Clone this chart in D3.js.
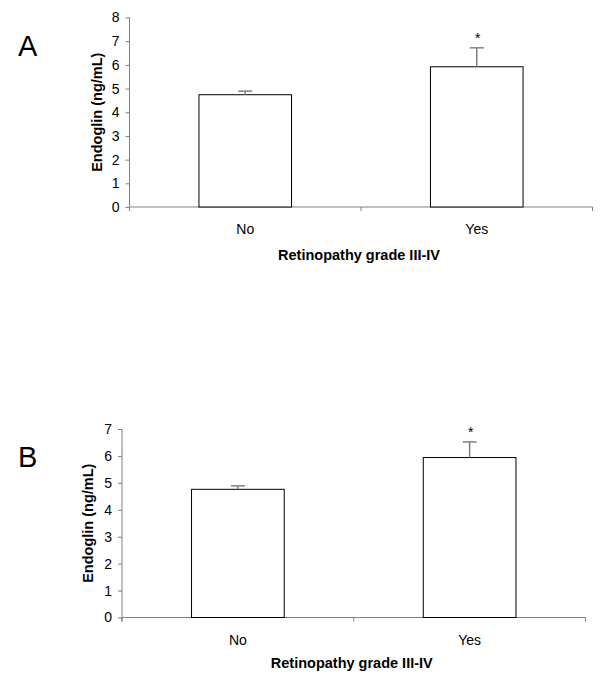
<!DOCTYPE html>
<html><head><meta charset="utf-8">
<script src="https://cdn.jsdelivr.net/npm/d3@7"></script>
<style>body{margin:0;background:#fff}svg{display:block}text{font-family:"Liberation Sans",Arial,sans-serif}</style>
</head><body>
<svg id="c" width="600" height="680"></svg>
<script>
const categories = ["No", "Yes"];
const valuesA = [4.74, 5.92];
const errorsA = [0.15, 0.80];
const ticksA = [0, 1, 2, 3, 4, 5, 6, 7, 8];
const valuesB = [4.76, 5.94];
const errorsB = [0.13, 0.58];
const ticksB = [0, 1, 2, 3, 4, 5, 6, 7];
const significance = ["", "*"];
const xTitle = "Retinopathy grade III-IV";
const yTitle = "Endoglin (ng/mL)";

const svg = d3.select("#c");
const grey = "#808080";

function panel(cfg) {
  const {label, values, errors, ticks, x0, x1, yTop, yBot, yMax, yTitleX, labelPos, xTitleY} = cfg;
  const g = svg.append("g");
  const x = d3.scaleBand().domain(categories).range([x0, x1]).paddingInner(0).paddingOuter(0);
  const y = d3.scaleLinear().domain([0, yMax]).range([yBot, yTop]);
  const bw = x.bandwidth() * 0.4;

  // y axis
  const ya = g.append("g").attr("transform", `translate(${x0},0)`)
    .call(d3.axisLeft(y).tickValues(ticks).tickSize(4).tickPadding(6).tickFormat(d3.format("d")));
  ya.select(".domain").attr("stroke", grey).attr("d", `M-0,${yTop}V${yBot + 4}`);
  ya.selectAll(".tick line").attr("stroke", grey);
  ya.selectAll(".tick text").attr("font-size", 14).attr("fill", "#000");

  // x axis
  const xa = g.append("g").attr("transform", `translate(0,${yBot})`);
  xa.append("line").attr("x1", x0).attr("x2", x1).attr("stroke", grey);
  const bounds = [x0, ...categories.slice(1).map(c => x(c)), x1];
  xa.selectAll("line.tk").data(bounds).join("line").attr("class", "tk")
    .attr("x1", d => d).attr("x2", d => d).attr("y1", 0).attr("y2", 4).attr("stroke", grey);
  xa.selectAll("text").data(categories).join("text")
    .attr("x", d => x(d) + x.bandwidth() / 2).attr("y", 27)
    .attr("text-anchor", "middle").attr("font-size", 14).text(d => d);

  // bars
  g.selectAll("rect.bar").data(categories).join("rect").attr("class", "bar")
    .attr("x", d => x(d) + x.bandwidth() / 2 - bw / 2)
    .attr("width", bw)
    .attr("y", (d, i) => y(values[i]))
    .attr("height", (d, i) => y(0) - y(values[i]))
    .attr("fill", "#fff").attr("stroke", "#000").attr("stroke-width", 1);

  // error bars
  const eb = g.selectAll("g.eb").data(categories).join("g").attr("class", "eb");
  eb.append("line")
    .attr("x1", d => x(d) + x.bandwidth() / 2).attr("x2", d => x(d) + x.bandwidth() / 2)
    .attr("y1", (d, i) => y(values[i])).attr("y2", (d, i) => y(values[i] + errors[i]))
    .attr("stroke", grey).attr("stroke-width", 1.5);
  eb.append("line")
    .attr("x1", d => x(d) + x.bandwidth() / 2 - 7).attr("x2", d => x(d) + x.bandwidth() / 2 + 7)
    .attr("y1", (d, i) => y(values[i] + errors[i])).attr("y2", (d, i) => y(values[i] + errors[i]))
    .attr("stroke", grey).attr("stroke-width", 1.5);
  eb.append("text")
    .attr("x", d => x(d) + x.bandwidth() / 2 + 1)
    .attr("y", (d, i) => y(values[i] + errors[i]) - 5)
    .attr("text-anchor", "middle").attr("font-size", 14)
    .text((d, i) => significance[i]);

  // titles
  g.append("text").attr("x", (x0 + x1) / 2 - 2).attr("y", xTitleY)
    .attr("text-anchor", "middle").attr("font-size", 14.5).attr("font-weight", "bold").text(xTitle);
  g.append("text").attr("transform", `translate(${yTitleX},${(yTop + yBot) / 2}) rotate(-90)`)
    .attr("text-anchor", "middle").attr("font-size", 14.5).attr("font-weight", "bold").text(yTitle);
  g.append("text").attr("x", labelPos[0]).attr("y", labelPos[1])
    .attr("font-size", 29).text(label);
}

panel({label: "A", values: valuesA, errors: errorsA, ticks: ticksA,
  x0: 129.5, x1: 592.5, yTop: 17.5, yBot: 207, yMax: 8, yTitleX: 102, labelPos: [18, 56], xTitleY: 260});
panel({label: "B", values: valuesB, errors: errorsB, ticks: ticksB,
  x0: 122, x1: 585.5, yTop: 429, yBot: 617.5, yMax: 7, yTitleX: 93, labelPos: [18, 467], xTitleY: 668});
</script>
</body></html>
